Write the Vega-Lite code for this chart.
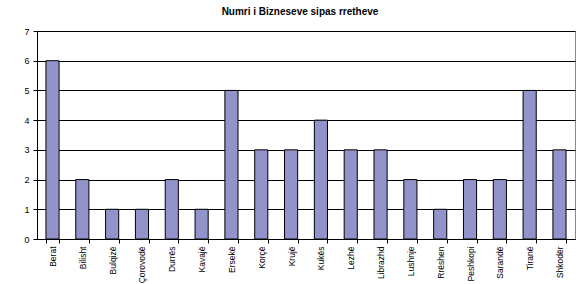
{
  "$schema": "https://vega.github.io/schema/vega-lite/v6.json",
  "width": 538,
  "height": 208,
  "autosize": {"type": "none"},
  "padding": {"left": 37, "top": 31, "right": 8, "bottom": 45},
  "background": "white",
  "title": {"text": "Numri i Bizneseve sipas rretheve", "font": "Liberation Sans", "fontSize": 10, "fontWeight": "bold", "color": "black", "offset": 10, "anchor": "middle", "dx": -6},
  "data": {"values": [
    {"rrethi": "Berat", "numri": 6},
    {"rrethi": "Bilisht", "numri": 2},
    {"rrethi": "Bulqizë", "numri": 1},
    {"rrethi": "Çorovodë", "numri": 1},
    {"rrethi": "Durrës", "numri": 2},
    {"rrethi": "Kavajë", "numri": 1},
    {"rrethi": "Ersekë", "numri": 5},
    {"rrethi": "Korçë", "numri": 3},
    {"rrethi": "Krujë", "numri": 3},
    {"rrethi": "Kukës", "numri": 4},
    {"rrethi": "Lezhë", "numri": 3},
    {"rrethi": "Librazhd", "numri": 3},
    {"rrethi": "Lushnje", "numri": 2},
    {"rrethi": "Rrëshen", "numri": 1},
    {"rrethi": "Peshkopi", "numri": 2},
    {"rrethi": "Sarandë", "numri": 2},
    {"rrethi": "Tiranë", "numri": 5},
    {"rrethi": "Shkodër", "numri": 3}
  ]},
  "mark": {"type": "bar", "fill": "#9393CB", "stroke": "black", "strokeWidth": 1},
  "encoding": {
    "x": {"field": "rrethi", "type": "nominal", "sort": null,
      "scale": {"paddingInner": 0.56, "paddingOuter": 0.3},
      "axis": {"title": null, "labelAngle": -90, "labelFont": "Liberation Sans", "labelFontSize": 8.5, "labelColor": "black", "domainColor": "black", "tickColor": "black", "tickBand": "extent", "tickSize": 4, "labelPadding": 3}},
    "y": {"field": "numri", "type": "quantitative",
      "scale": {"domain": [0, 7], "nice": false},
      "axis": {"title": null, "values": [0, 1, 2, 3, 4, 5, 6, 7], "format": "d", "labelFont": "Liberation Sans", "labelFontSize": 9, "labelColor": "black", "labelOverlap": false, "domainColor": "black", "tickColor": "black", "tickSize": 4, "labelPadding": 4, "grid": true, "gridColor": "black", "gridOpacity": 1, "gridWidth": 1}}
  },
  "config": {"view": {"stroke": "#888888", "strokeWidth": 1}}
}
